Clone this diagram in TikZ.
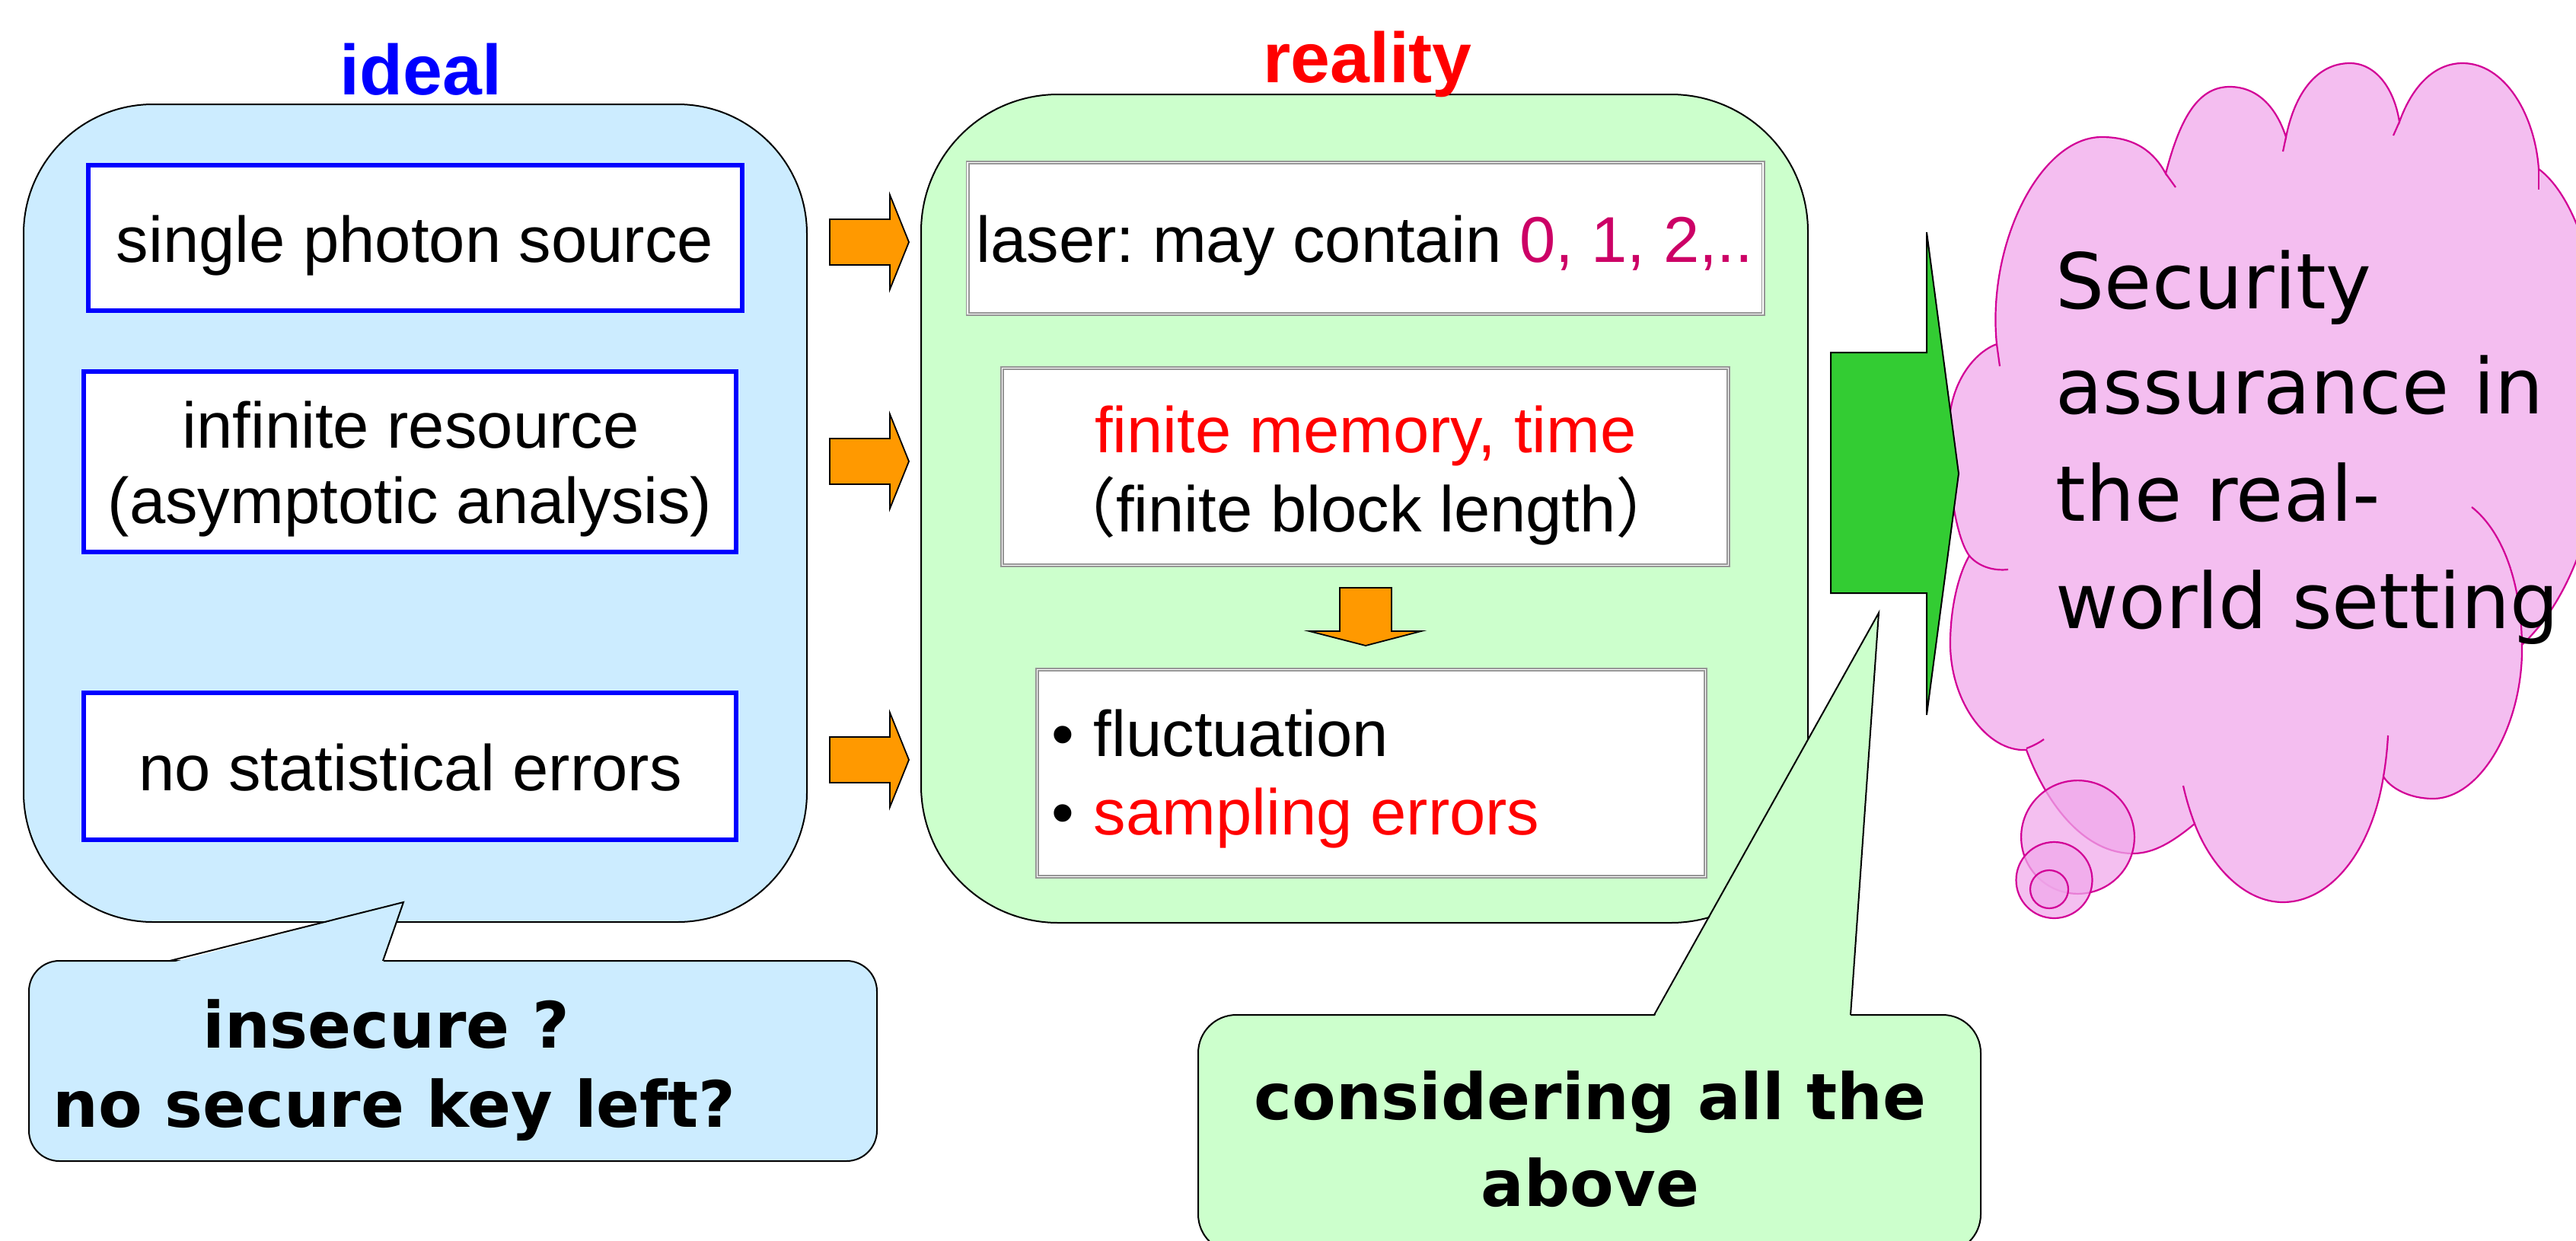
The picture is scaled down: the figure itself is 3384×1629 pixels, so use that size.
\documentclass[tikz,border=0pt]{standalone}
\usepackage{fontspec}
\setmainfont{Liberation Sans}
\newfontfamily\dejavu{DejaVu Sans}
\newfontfamily\cjkfont{Noto Sans CJK JP}
\definecolor{bluefill}{RGB}{204,236,255}
\definecolor{greenfill}{RGB}{204,255,204}
\definecolor{orangefill}{RGB}{255,153,0}
\definecolor{arrowgreen}{RGB}{51,204,51}
\definecolor{cloudpink}{RGB}{244,190,240}
\definecolor{bubblepink}{RGB}{240,169,235}
\definecolor{magline}{RGB}{210,0,150}
\definecolor{numc}{RGB}{204,0,102}
\definecolor{grayline}{RGB}{150,150,150}
\definecolor{pureblue}{RGB}{0,0,255}
\definecolor{purered}{RGB}{255,0,0}
\newcommand\bodyfont{\fontsize{21.25pt}{25pt}\selectfont}
\newcommand\headfont{\bfseries\fontsize{23.3pt}{28pt}\selectfont}
\newcommand\cloudfont{\dejavu\fontsize{25.25pt}{35pt}\selectfont}
\newcommand\callfont{\dejavu\bfseries\fontsize{21pt}{26pt}\selectfont}
\frenchspacing
\begin{document}
\begin{tikzpicture}[x=0.25pt,y=-0.25pt,
  bigbox/.style={draw=black, line width=0.5pt, inner sep=0pt, outer sep=0pt},
  bluebox/.style={draw=pureblue, line width=1.4pt, fill=white, inner sep=0pt, outer sep=0pt},
  graybox/.style={draw=grayline, double=white, double distance=0.4pt, line width=0.45pt, fill=white, inner sep=0pt, outer sep=0pt},
  blockarrow/.style={draw=black, line width=0.45pt, fill=orangefill, line join=miter},
  txt/.style={inner sep=0pt, anchor=base, font=\bodyfont},
  cloudtxt/.style={inner sep=0pt, anchor=base west, font=\cloudfont},
  calltxt/.style={inner sep=0pt, anchor=base, font=\callfont},
  cloudline/.style={draw=magline, line width=0.55pt},
  outline/.style={draw=black, line width=0.5pt, line join=miter}]
\useasboundingbox (0,0) rectangle (3384,1629);
\clip (0,0) rectangle (3384,1629);

% ---------- cloud ----------
\path[fill=cloudpink, cloudline] (2623,452)
 .. controls (2610,320) and (2680,180) .. (2761,180)
 .. controls (2805,180) and (2830,200) .. (2845,228)
 .. controls (2865,150) and (2890,114) .. (2929,114)
 .. controls (2965,114) and (2990,140) .. (3003,180)
 .. controls (3015,120) and (3045,83) .. (3087,83)
 .. controls (3120,83) and (3145,115) .. (3152,160)
 .. controls (3170,110) and (3200,83) .. (3235,83)
 .. controls (3290,83) and (3330,150) .. (3335,222)
 .. controls (3440,300) and (3470,700) .. (3313,847)
 .. controls (3315,950) and (3260,1049) .. (3196,1049)
 .. controls (3165,1049) and (3140,1035) .. (3131,1020)
 .. controls (3115,1120) and (3060,1185) .. (2999,1185)
 .. controls (2950,1185) and (2905,1140) .. (2883,1082)
 .. controls (2855,1105) and (2830,1121) .. (2802,1121)
 .. controls (2740,1121) and (2690,1060) .. (2662,985)
 .. controls (2610,988) and (2560,920) .. (2562,840)
 .. controls (2563,790) and (2575,750) .. (2587,730)
 .. controls (2565,700) and (2555,600) .. (2562,540)
 .. controls (2570,490) and (2600,460) .. (2623,452)
 -- cycle;
% inner tails of the cloud
\draw[cloudline] (2623,452) -- (2627,481);
\draw[cloudline] (2845,228) -- (2858,246);
\draw[cloudline] (3003,180) -- (2999,199);
\draw[cloudline] (3152,160) -- (3144,178);
\draw[cloudline] (3335,222) -- (3335,249);
\draw[cloudline] (3247,666) .. controls (3290,700) and (3312,770) .. (3313,847);
\draw[cloudline] (3137,966) .. controls (3136,985) and (3134,1002) .. (3131,1020);
\draw[cloudline] (2868,1032) .. controls (2872,1050) and (2877,1066) .. (2883,1082);
\draw[cloudline] (2662,983) .. controls (2670,980) and (2678,976) .. (2685,971);
\draw[cloudline] (2587,730) .. controls (2600,745) and (2620,750) .. (2638,748);
% thought bubbles
\filldraw[cloudline, fill=bubblepink, fill opacity=0.75] (2729.5,1099.5) circle[radius=18.6pt];
\filldraw[cloudline, fill=bubblepink, fill opacity=0.75] (2698.5,1156) circle[radius=12.5pt];
\filldraw[cloudline, fill=bubblepink, fill opacity=0.75] (2692,1168) circle[radius=6.25pt];

% ---------- big boxes ----------
\node[bigbox, fill=bluefill, rounded corners=42.5pt, minimum width=257.25pt, minimum height=268.5pt] (idealbox) at (545.5,674) {};
\node[bigbox, fill=greenfill, rounded corners=45pt, minimum width=291.25pt, minimum height=272pt] (realbox) at (1792.5,668) {};

% ---------- inner boxes ----------
\node[bluebox, minimum width=214.75pt, minimum height=47.75pt] (i1) at (545.5,312.5) {};
\node[bluebox, minimum width=214.25pt, minimum height=59.25pt] (i2) at (538.5,606.5) {};
\node[bluebox, minimum width=214.25pt, minimum height=48.25pt] (i3) at (538.5,1006.5) {};
\node[graybox, minimum width=261.25pt, minimum height=49.75pt] (r1) at (1793.75,313) {};
\node[graybox, minimum width=238.5pt, minimum height=64.75pt] (r2) at (1793.5,613) {};
\node[graybox, minimum width=219.5pt, minimum height=68pt] (r3) at (1801.5,1015.5) {};

% ---------- orange block arrows ----------
\foreach \yc in {318,606,998}{
  \draw[blockarrow] (1090,\yc-30) -- (1169,\yc-30) -- (1169,\yc-62) -- (1194,\yc)
     -- (1169,\yc+62) -- (1169,\yc+30) -- (1090,\yc+30) -- cycle;
}
\draw[blockarrow] (1760,772) -- (1828,772) -- (1828,829) -- (1867,829) -- (1794,848)
   -- (1720,829) -- (1760,829) -- cycle;

% ---------- green block arrow ----------
\draw[outline, fill=arrowgreen] (2405,463) -- (2531,463) -- (2531,305) -- (2573,622)
   -- (2531,939) -- (2531,779) -- (2405,779) -- cycle;

% ---------- callouts ----------
\node[bigbox, fill=bluefill, rounded corners=10pt, minimum width=278.5pt, minimum height=65.75pt] (call1) at (595,1393.5) {};
\fill[bluefill] (223,1265) -- (530,1185) -- (503,1265) -- cycle;
\draw[outline] (223,1262) -- (530,1185) -- (503,1262);

\node[bigbox, fill=greenfill, rounded corners=12.5pt, minimum width=257pt, minimum height=78pt] (call2) at (2088,1489) {};
\fill[greenfill] (2173,1336) -- (2468,805) -- (2431,1336) -- cycle;
\draw[outline] (2173,1333) -- (2468,805) -- (2431,1333);

% ---------- texts ----------
\node[inner sep=0pt, anchor=base, font=\headfont, text=pureblue] (hideal) at (553,124) {ideal};
\node[inner sep=0pt, anchor=base, font=\headfont, text=purered] (hreal) at (1796.5,108) {reality};

\node[txt] (ti1) at (545,344) {single photon source};
\node[txt] (ti2a) at (539.5,588) {infinite resource};
\node[txt] (ti2b) at (538.6,687) {(asymptotic analysis)};
\node[txt] (ti3) at (539,1038) {no statistical errors};

\node[txt] (tr1) at (1793,344) {laser: may contain \textcolor{numc}{0, 1, 2,..}};
\node[txt, text=purered] (tr2a) at (1794,594) {finite memory, time};
\node[txt] (tr2b) at (1794.5,698) {{\cjkfont （}finite block length{\cjkfont ）}};
\node[txt] (b1) at (1396,993) {•};
\node[txt, anchor=base west] (tr3a) at (1436,993) {fluctuation};
\node[txt] (b2) at (1396,1096) {•};
\node[txt, anchor=base west, text=purered] (tr3b) at (1436,1096) {sampling errors};

\node[cloudtxt] (c1) at (2700,405) {Security};
\node[cloudtxt] (c2) at (2700,543) {assurance in};
\node[cloudtxt] (c3) at (2700,684) {the real-};
\node[cloudtxt] (c4) at (2700,825) {world setting};

\node[calltxt] (k1) at (507,1376) {insecure ?};
\node[calltxt] (k2) at (518,1480) {no secure key left?};
\node[calltxt] (k3) at (2089,1470) {considering all the};
\node[calltxt] (k4) at (2089,1584) {above};
\end{tikzpicture}
\end{document}
